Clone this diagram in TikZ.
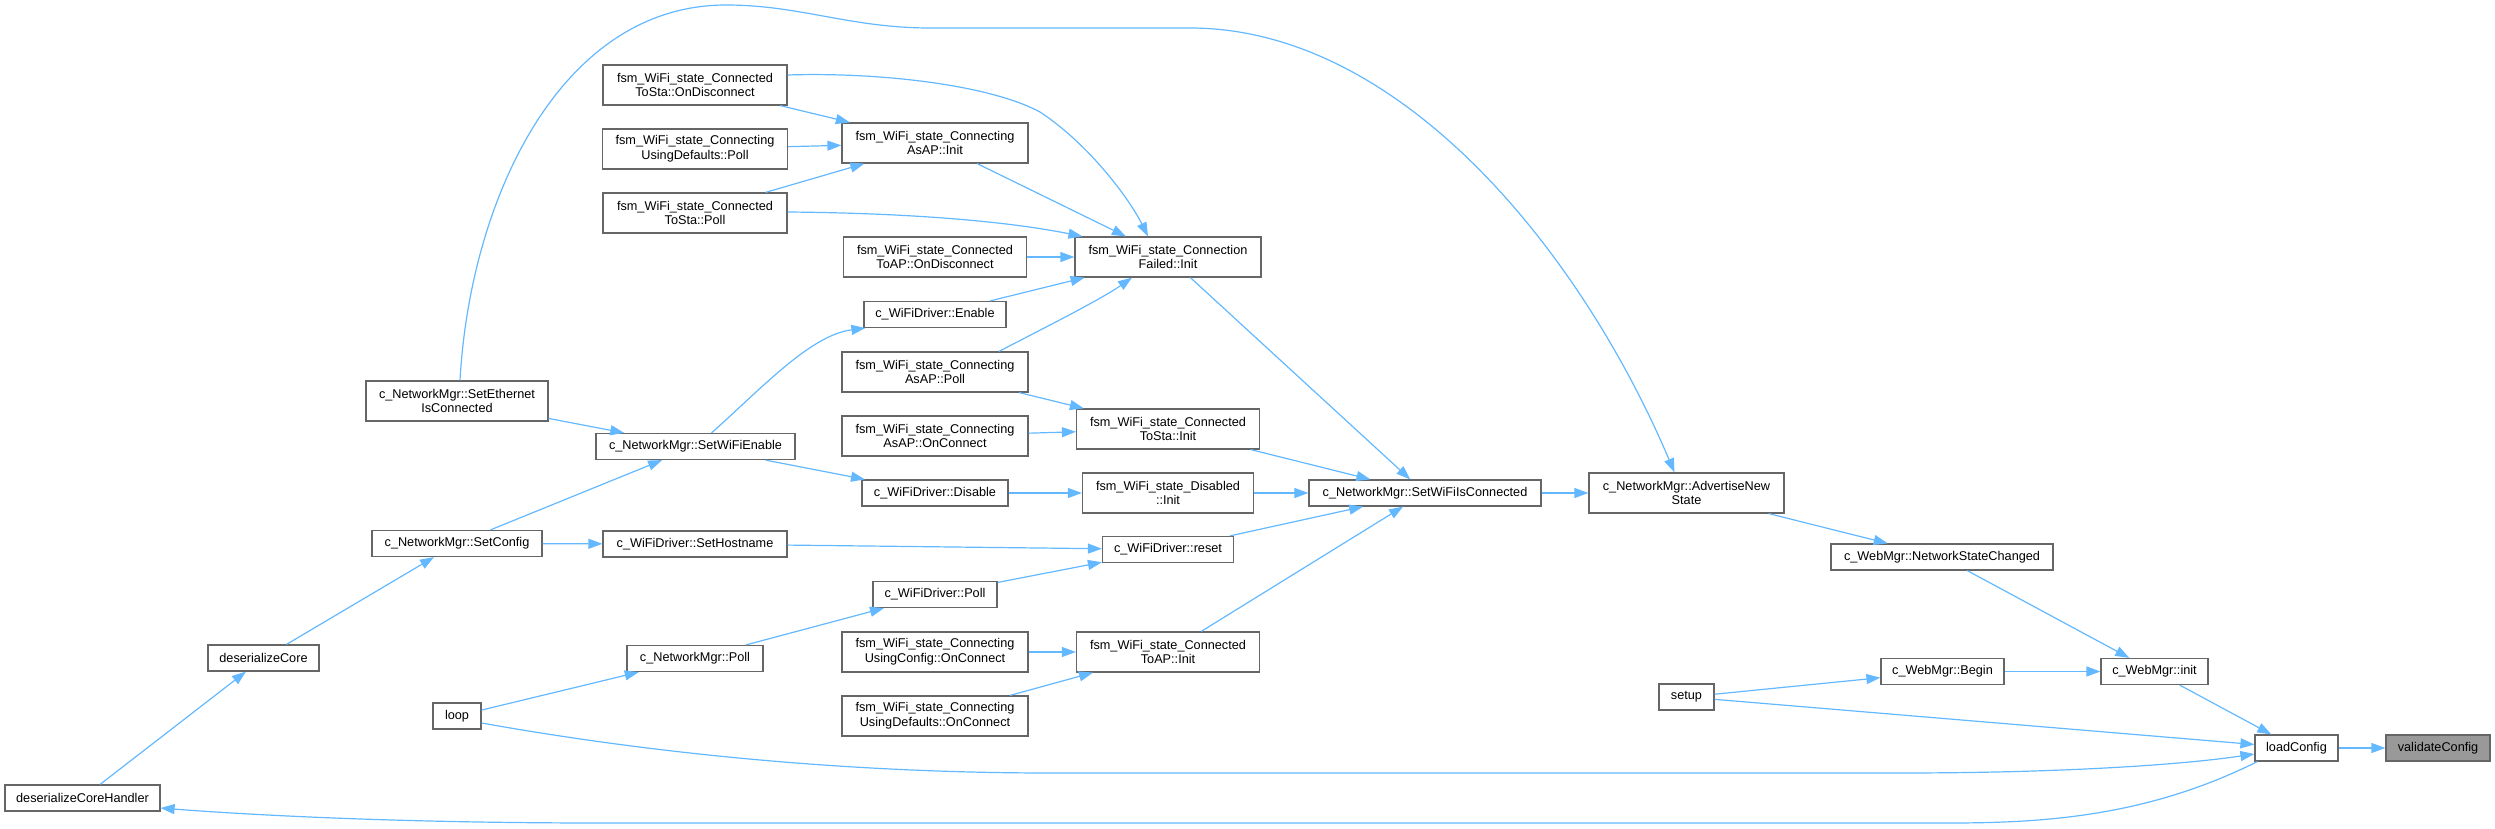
\documentclass[tikz,border=0pt]{standalone}
\usepackage{fontspec}
\setmainfont{Liberation Sans}
\usetikzlibrary{arrows.meta}
\definecolor{edgeblue}{HTML}{63B8FF}
\definecolor{boxgray}{HTML}{666666}
\definecolor{curgray}{HTML}{999999}

\begin{document}
\begin{tikzpicture}[x=1pt, y=-1pt,
  fn/.style={draw=boxgray, fill=white, line width=1.2pt, inner sep=0pt,
    minimum height=26pt, align=center, font={\fontsize{12.7}{14.7}\selectfont}},
  fntwo/.style={fn, minimum height=40pt},
  edge/.style={draw=edgeblue, line width=1.2pt, -{Triangle[length=14pt, width=10pt]}},
]
  \useasboundingbox (0,0) rectangle (2495,829);
  % right part
  \node[fn, fill=curgray, minimum width=104pt] (validate) at (2438,748) {validateConfig};
  \node[fn, minimum width=83pt] (load) at (2296.5,748) {loadConfig};
  \node[fn, minimum width=107pt] (webinit) at (2154.5,671.5) {c\_WebMgr::init};
  \node[fn, minimum width=123pt] (webbegin) at (1942.5,671.5) {c\_WebMgr::Begin};
  \node[fn, minimum width=222pt] (netchanged) at (1942,557) {c\_WebMgr::NetworkStateChanged};
  \node[fntwo, minimum width=195pt] (advertise) at (1686.5,493) {c\_NetworkMgr::AdvertiseNew\\State};
  \node[fn, minimum width=55pt] (setup) at (1686.5,697) {setup};
  \node[fn, minimum width=232pt] (wificonn) at (1425,493) {c\_NetworkMgr::SetWiFiIsConnected};
  % state inits
  \node[fntwo, minimum width=186pt] (connfailed) at (1168,257) {fsm\_WiFi\_state\_Connection\\Failed::Init};
  \node[fntwo, minimum width=183pt] (tostainit) at (1168,429) {fsm\_WiFi\_state\_Connected\\ToSta::Init};
  \node[fntwo, minimum width=171pt] (disinit) at (1168,493) {fsm\_WiFi\_state\_Disabled\\::Init};
  \node[fn, minimum width=131pt] (reset) at (1168,549.5) {c\_WiFiDriver::reset};
  \node[fntwo, minimum width=183pt] (toapinit) at (1168,652) {fsm\_WiFi\_state\_Connected\\ToAP::Init};
  % middle column
  \node[fntwo, minimum width=186pt] (asapinit) at (935,143) {fsm\_WiFi\_state\_Connecting\\AsAP::Init};
  \node[fntwo, minimum width=183pt] (toapdisc) at (935,257) {fsm\_WiFi\_state\_Connected\\ToAP::OnDisconnect};
  \node[fn, minimum width=142pt] (enable) at (935,314.5) {c\_WiFiDriver::Enable};
  \node[fntwo, minimum width=186pt] (asappoll) at (935,372) {fsm\_WiFi\_state\_Connecting\\AsAP::Poll};
  \node[fntwo, minimum width=186pt] (asapconn) at (935,436) {fsm\_WiFi\_state\_Connecting\\AsAP::OnConnect};
  \node[fn, minimum width=146pt] (disable) at (935,493) {c\_WiFiDriver::Disable};
  \node[fn, minimum width=124pt] (drvpoll) at (935,594.5) {c\_WiFiDriver::Poll};
  \node[fntwo, minimum width=186pt] (cfgconn) at (935,652) {fsm\_WiFi\_state\_Connecting\\UsingConfig::OnConnect};
  \node[fntwo, minimum width=186pt] (defconn) at (935,716) {fsm\_WiFi\_state\_Connecting\\UsingDefaults::OnConnect};
  % left columns
  \node[fntwo, minimum width=184pt] (stadisc) at (695,85) {fsm\_WiFi\_state\_Connected\\ToSta::OnDisconnect};
  \node[fntwo, minimum width=185pt] (defpoll) at (695,149) {fsm\_WiFi\_state\_Connecting\\UsingDefaults::Poll};
  \node[fntwo, minimum width=184pt] (stapoll) at (695,213) {fsm\_WiFi\_state\_Connected\\ToSta::Poll};
  \node[fn, minimum width=199pt] (wifienable) at (695.5,446.5) {c\_NetworkMgr::SetWiFiEnable};
  \node[fn, minimum width=184pt] (hostname) at (695,544) {c\_WiFiDriver::SetHostname};
  \node[fn, minimum width=136pt] (netpoll) at (695,658.5) {c\_NetworkMgr::Poll};
  \node[fntwo, minimum width=182pt] (ethernet) at (457,401) {c\_NetworkMgr::SetEthernet\\IsConnected};
  \node[fn, minimum width=170pt] (setconfig) at (457,543.5) {c\_NetworkMgr::SetConfig};
  \node[fn, minimum width=48pt] (loop) at (457,716) {loop};
  \node[fn, minimum width=111pt] (descore) at (263.5,658) {deserializeCore};
  \node[fn, minimum width=155pt] (deshandler) at (82.5,798) {deserializeCoreHandler};

  % straight calls
  \foreach \a/\b in {load/validate, webinit/load, webbegin/webinit, netchanged/webinit,
      advertise/netchanged, wificonn/advertise, setup/webbegin, setup/load,
      connfailed/wificonn, tostainit/wificonn, disinit/wificonn, reset/wificonn, toapinit/wificonn,
      asapinit/connfailed, toapdisc/connfailed, enable/connfailed,
      asappoll/tostainit, asapconn/tostainit, disable/disinit, drvpoll/reset,
      cfgconn/toapinit, defconn/toapinit,
      stadisc/asapinit, defpoll/asapinit, stapoll/asapinit,
      wifienable/disable, hostname/reset, netpoll/drvpoll,
      ethernet/wifienable, setconfig/wifienable, setconfig/hostname,
      loop/netpoll, descore/setconfig, deshandler/descore}
    \draw[edge] (\a) -- (\b);

  % curved calls
  \draw[edge] (wifienable.north) ++(16,0) .. controls (760,390) and (810,335) .. ([xshift=2pt]enable.south west);
  \draw[edge] ([xshift=64pt]asappoll.north) .. controls (1040,330) and (1100,300) .. ([xshift=-36pt]connfailed.south);
  \draw[edge] ([yshift=10pt]stadisc.east) .. controls (880,72) and (990,85) .. (1040,112)
    .. controls (1090,145) and (1130,200) .. ([xshift=-20pt]connfailed.north);
  \draw[edge] ([yshift=1pt]stapoll.east) .. controls (900,213) and (1000,220) .. ([xshift=8pt]connfailed.north west);
  \draw[edge] ([xshift=3pt]ethernet.north) .. controls (470,200) and (560,5) .. (726,5)
    .. controls (800,5) and (850,28) .. (930,28) -- (1190,28)
    .. controls (1400,28) and (1580,250) .. ([xshift=-12pt]advertise.north);
  \draw[edge] ([yshift=-7pt]loop.east) .. controls (700,762) and (900,773) .. (1050,773) -- (1900,773)
    .. controls (2060,773) and (2180,765) .. ([yshift=-6pt]load.west);
  \draw[edge] ([xshift=3pt]load.south west) .. controls (2150,815) and (2050,823) .. (1950,823) -- (600,823)
    .. controls (400,823) and (250,815) .. ([yshift=-10pt]deshandler.east);
\end{tikzpicture}
\end{document}
